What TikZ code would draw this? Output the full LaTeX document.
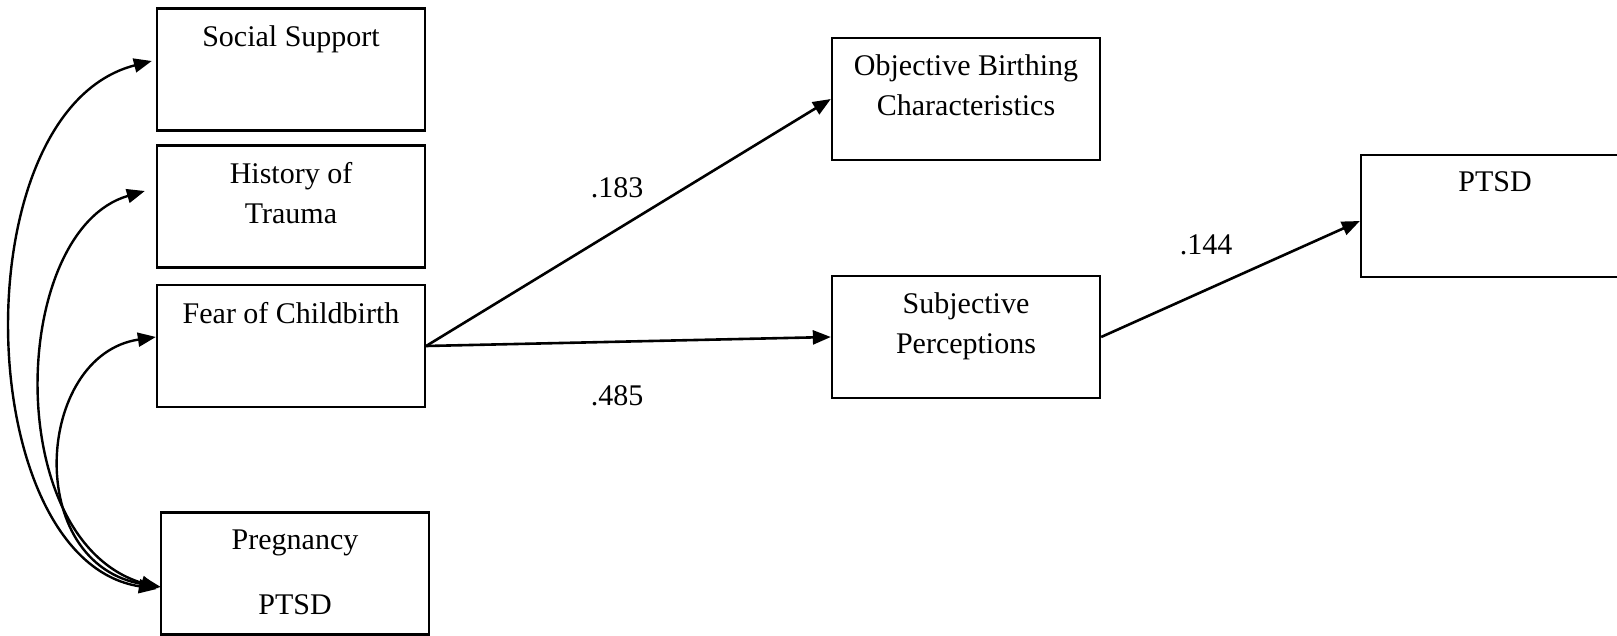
\documentclass[tikz,border=0pt]{standalone}
\usepackage{fontspec}
\setmainfont{Liberation Serif}
\usetikzlibrary{arrows.meta}

\begin{document}
\begin{tikzpicture}[x=1pt, y=-1pt, >={Triangle[length=18pt, width=14pt]},
    box/.style={draw, line width=2.3pt, minimum width=268pt, minimum height=122pt, inner sep=0pt},
    boxtext/.style={anchor=north, yshift=-18pt, align=center, inner sep=0pt, font=\fontsize{30}{40}\selectfont},
    coef/.style={inner sep=0pt, font=\fontsize{30}{40}\selectfont},
    link/.style={->, line width=2.6pt},
    corr/.style={<->, line width=2.4pt}]

% Page frame
\useasboundingbox (0,0) rectangle (1617,636);

% Predictors
\node[box, label={[boxtext]north:Social Support}] (social) at (291,69.5) {};
\node[box, label={[boxtext]north:{History of\\Trauma}}] (trauma) at (291,206.5) {};
\node[box, label={[boxtext]north:Fear of Childbirth}] (fear) at (291,346) {};
\node[box, label={[boxtext]north:{Pregnancy\\[25pt]PTSD}}] (pregptsd) at (295,573.5) {};

% Birth experience
\node[box, label={[boxtext]north:{Objective Birthing\\Characteristics}}] (objective) at (966,99) {};
\node[box, label={[boxtext]north:{Subjective\\Perceptions}}] (subjective) at (966,337) {};

% Outcome (runs off the right edge)
\node[box, label={[boxtext]north:PTSD}] (ptsd) at (1495,216) {};

% Paths
\draw[link] (fear.east) -- (objective.west);
\draw[link] (fear.east) -- (subjective.west);
\draw[link] (subjective.east) -- ([yshift=-5pt]ptsd.west);

% Path coefficients
\node[coef] (b183) at (617,188) {.183};
\node[coef] (b485) at (617,396) {.485};
\node[coef] (b144) at (1206,245) {.144};

% Correlations with pregnancy PTSD
\draw[corr] ([shift={(-4,-8.5)}]social.west) .. controls (-40,110) and (-30,560) .. ([shift={(-3,15.5)}]pregptsd.west);
\draw[corr] ([shift={(-11,-15.5)}]trauma.west) .. controls (10,230) and (0,540) .. ([shift={(-1,14.5)}]pregptsd.west);
\draw[corr] ([shift={(0,-9)}]fear.west) .. controls (35,355) and (22,565) .. ([shift={(1,13.5)}]pregptsd.west);

\end{tikzpicture}
\end{document}
